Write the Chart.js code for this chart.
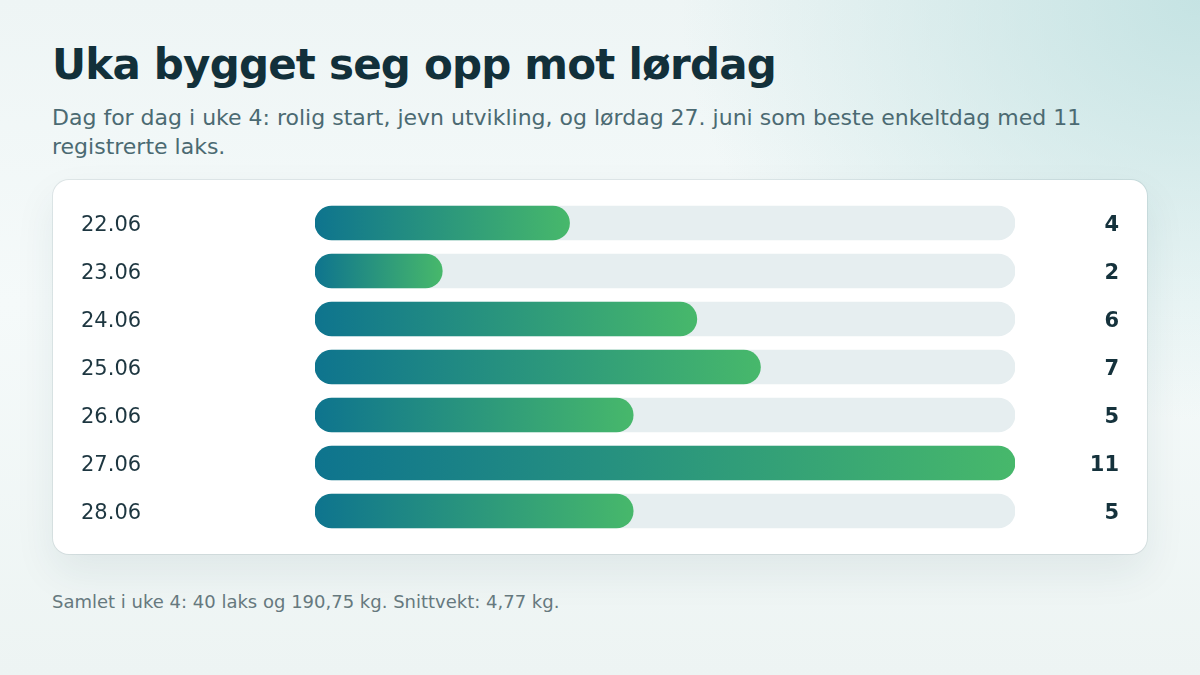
<!DOCTYPE html>
<html lang="no">
<head>
<meta charset="utf-8">
<title>Uka bygget seg opp mot lørdag</title>
<script src="https://cdn.jsdelivr.net/npm/chart.js@4/dist/chart.umd.min.js"></script>
<style>
  html, body { margin: 0; padding: 0; }
  body {
    width: 1200px;
    height: 675px;
    overflow: hidden;
    font-family: "DejaVu Sans", sans-serif;
    background:
      radial-gradient(ellipse 520px 420px at 1200px 0px, rgba(190, 224, 224, 0.85), rgba(190, 224, 224, 0) 100%),
      linear-gradient(180deg, #eef5f5 0%, #f5fafa 45%, #edf4f3 100%);
  }
  .wrap { position: absolute; left: 52px; top: 0; width: 1096px; }
  h1 {
    margin: 0;
    position: absolute;
    top: 40px;
    font-size: 42px;
    font-weight: bold;
    color: #12303a;
    letter-spacing: -0.8px;
    white-space: nowrap;
  }
  .sub {
    position: absolute;
    top: 103px;
    margin: 0;
    font-size: 22px;
    line-height: 29px;
    color: #4b6a72;
    width: 1096px;
  }
  .card {
    position: absolute;
    left: 1px;
    top: 180px;
    width: 1094px;
    height: 374px;
    background: #fff;
    border-radius: 16px;
    box-shadow: 0 0 0 1px rgba(30, 70, 80, 0.09), 0 18px 40px rgba(30, 70, 80, 0.08);
  }
  .card canvas { position: absolute; left: 0; top: 0; }
  .foot {
    position: absolute;
    top: 591px;
    margin: 0;
    font-size: 18px;
    color: #66797e;
  }
</style>
</head>
<body>
<div class="wrap">
  <h1>Uka bygget seg opp mot lørdag</h1>
  <p class="sub">Dag for dag i uke 4: rolig start, jevn utvikling, og lørdag 27. juni som beste enkeltdag med 11 registrerte laks.</p>
  <div class="card"><canvas id="dayChart" width="1094" height="374"></canvas></div>
  <p class="foot">Samlet i uke 4: 40 laks og 190,75 kg. Snittvekt: 4,77 kg.</p>
</div>
<script>
// Laks per dag, uke 4
const days = ["22.06", "23.06", "24.06", "25.06", "26.06", "27.06", "28.06"];
const catches = [4, 2, 6, 7, 5, 11, 5];
const maxCatch = 11;
const track = days.map(() => maxCatch);

function barGradient(context) {
  const chart = context.chart;
  const area = chart.chartArea;
  if (!area) return "#0f7a8c";
  const x = chart.scales.x;
  const v = context.raw || 0;
  const x0 = x.getPixelForValue(0);
  const x1 = x.getPixelForValue(v);
  const g = chart.ctx.createLinearGradient(x0, 0, x1, 0);
  g.addColorStop(0, "#0e748e");
  g.addColorStop(1, "#47b86b");
  return g;
}

const ctx = document.getElementById("dayChart");
new Chart(ctx, {
  type: "bar",
  data: {
    labels: days,
    datasets: [
      {
        label: "Laks",
        data: catches,
        backgroundColor: barGradient,
        borderRadius: 17,
        borderSkipped: false,
        barThickness: 34,
        grouped: false,
        yAxisID: "y"
      },
      {
        label: "Spor",
        data: track,
        backgroundColor: "#e6eef0",
        borderRadius: 17,
        borderSkipped: false,
        barThickness: 34,
        grouped: false,
        yAxisID: "y"
      }
    ]
  },
  options: {
    indexAxis: "y",
    responsive: false,
    animation: false,
    events: [],
    layout: { padding: { left: 28, right: 28, top: 19, bottom: 19 } },
    plugins: { legend: { display: false }, tooltip: { enabled: false } },
    scales: {
      x: { display: false, min: 0, max: maxCatch },
      y: {
        position: "left",
        grid: { display: false },
        border: { display: false },
        ticks: {
          crossAlign: "far",
          padding: 0,
          labelOffset: 3,
          color: "#1d3640",
          font: { family: "DejaVu Sans", size: 21 }
        },
        afterFit: (s) => { s.width = 234; }
      },
      y2: {
        position: "right",
        type: "category",
        labels: catches.map(String),
        offset: true,
        grid: { display: false },
        border: { display: false },
        ticks: {
          crossAlign: "far",
          padding: 0,
          labelOffset: 3,
          color: "#15323c",
          font: { family: "DejaVu Sans", size: 21, weight: "bold" }
        },
        afterFit: (s) => { s.width = 104; }
      }
    }
  }
});
</script>
</body>
</html>
